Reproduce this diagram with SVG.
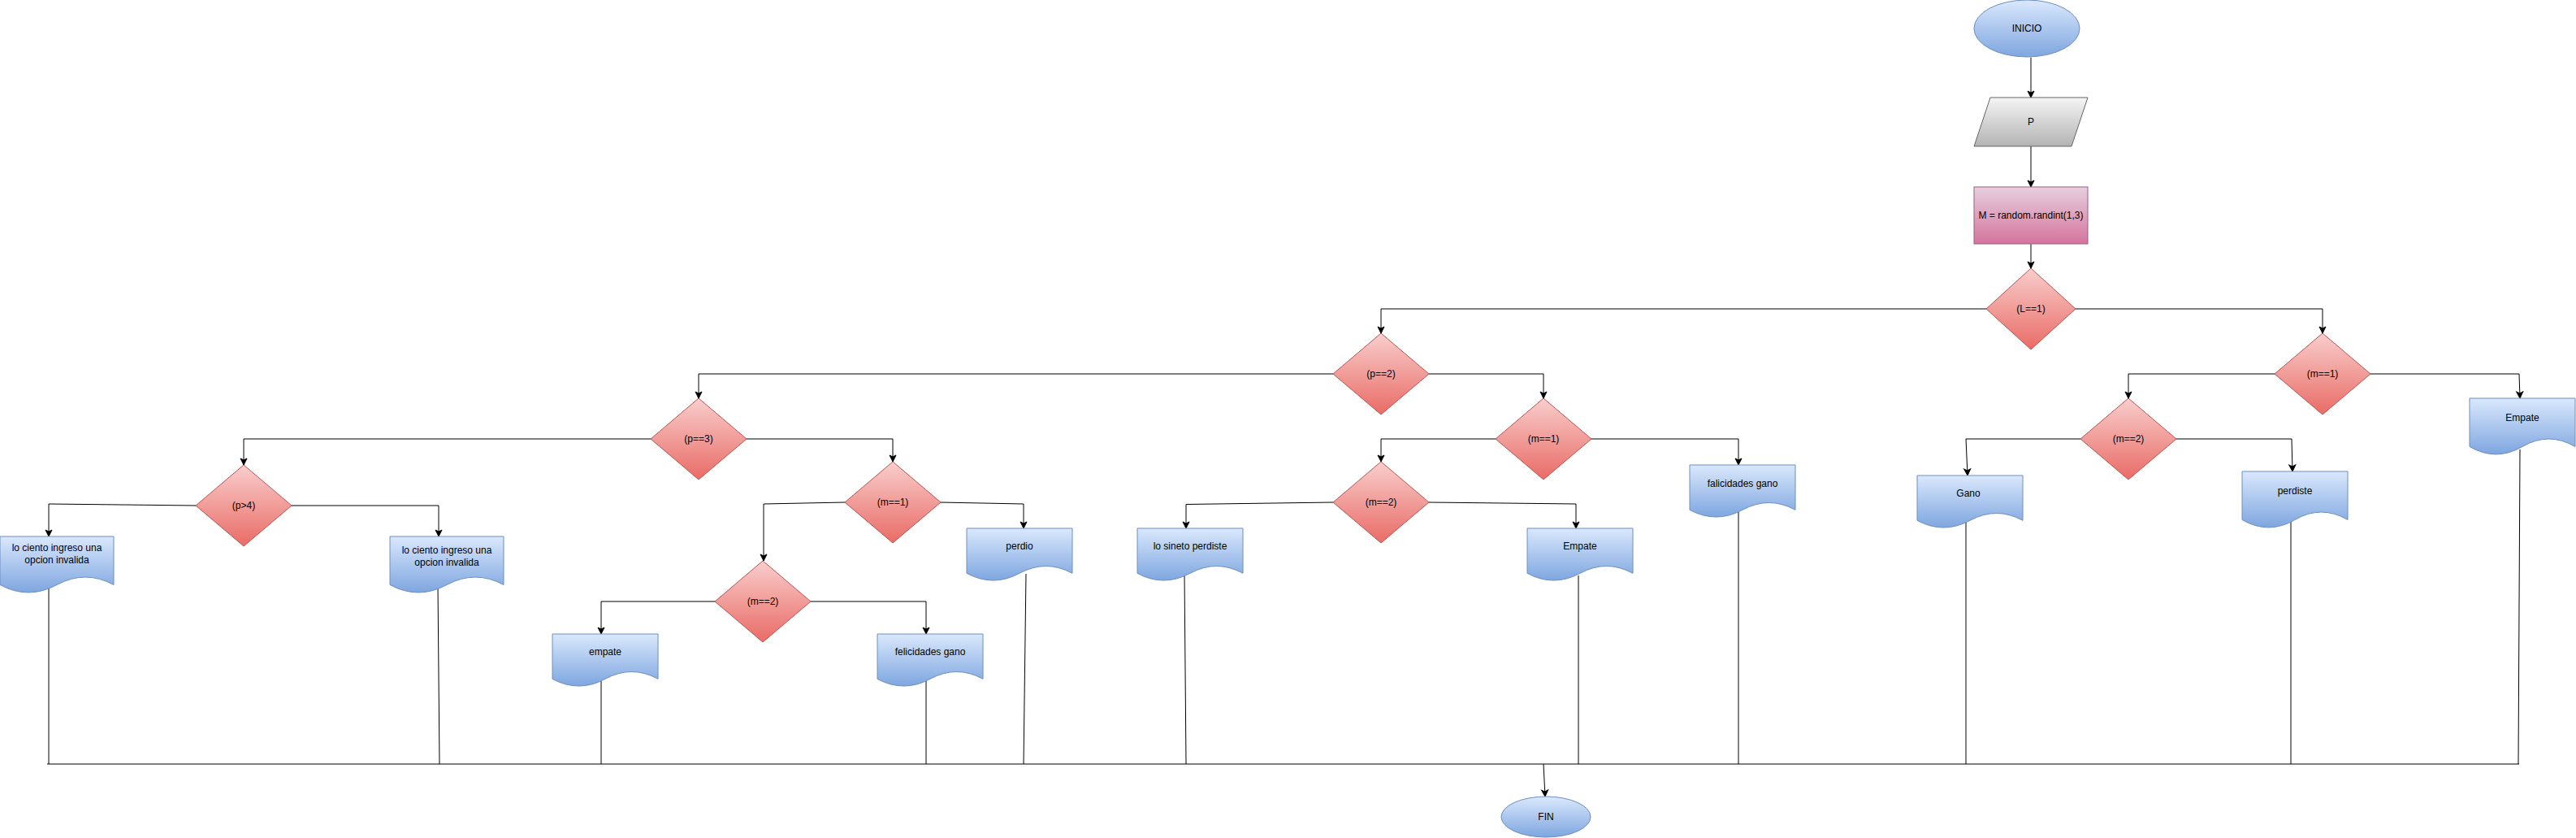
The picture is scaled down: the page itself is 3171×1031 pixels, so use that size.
<svg xmlns="http://www.w3.org/2000/svg" width="3171" height="1031" viewBox="0 0 3171 1031">
<style>
text{font-family:"Liberation Sans",Arial,Helvetica,sans-serif;font-size:12px;fill:#000;text-anchor:middle}
.blue{fill:url(#gBlue);stroke:#6c8ebf;stroke-width:1}
.red{fill:url(#gRed);stroke:#b85450;stroke-width:1}
.gray{fill:url(#gGray);stroke:#666666;stroke-width:1}
.pink{fill:url(#gPink);stroke:#996185;stroke-width:1}
.c{fill:none;stroke:#000;stroke-width:1}
.a{marker-end:url(#arr)}
</style>
<defs>
<linearGradient id="gBlue" x1="0" y1="0" x2="0" y2="1"><stop offset="0" stop-color="#dae8fc"/><stop offset="1" stop-color="#7ea6e0"/></linearGradient>
<linearGradient id="gRed" x1="0" y1="0" x2="0" y2="1"><stop offset="0" stop-color="#f8cecc"/><stop offset="1" stop-color="#ea6b66"/></linearGradient>
<linearGradient id="gGray" x1="0" y1="0" x2="0" y2="1"><stop offset="0" stop-color="#f5f5f5"/><stop offset="1" stop-color="#b3b3b3"/></linearGradient>
<linearGradient id="gPink" x1="0" y1="0" x2="0" y2="1"><stop offset="0" stop-color="#e6d0de"/><stop offset="1" stop-color="#d5739d"/></linearGradient>
<marker id="arr" markerUnits="userSpaceOnUse" markerWidth="12" markerHeight="12" viewBox="-10 -6 12 12" refX="0" refY="0" orient="auto"><path d="M0,0 L-8,-4 L-6,0 L-8,4 Z" fill="#000" stroke="#000" stroke-width="1"/></marker>
</defs>
<rect width="3171" height="1031" fill="#fff"/>

<g id="connectors">
<path class="c a" d="M2500,70.5 V120"/>
<path class="c a" d="M2500,180 V230"/>
<path class="c a" d="M2500,300 V330"/>
<path class="c a" d="M2555,380 H2859 V410"/>
<path class="c a" d="M2445,380 H1700 V410"/>
<path class="c a" d="M1759,460 H1900 V490"/>
<path class="c a" d="M1641,460 H860 V490"/>
<path class="c a" d="M1959,540 H2140 V572"/>
<path class="c a" d="M1841,540 H1700 V568"/>
<path class="c a" d="M1759,618 L1940,620 V650"/>
<path class="c a" d="M1641,618 L1460,620.5 V650"/>
<path class="c a" d="M919,540 H1099 V568"/>
<path class="c a" d="M801,540 H300 V572"/>
<path class="c a" d="M1158,618 L1260,620 V650"/>
<path class="c a" d="M1040,618 L940,620 V690"/>
<path class="c a" d="M998,740 H1140 V780"/>
<path class="c a" d="M880,740 H740 V780"/>
<path class="c a" d="M241,622 L60,620 V660"/>
<path class="c a" d="M359,622 H540 V660"/>
<path class="c a" d="M2800,460 H2620 V490"/>
<path class="c a" d="M2918,460 H3101 L3102,490"/>
<path class="c a" d="M2561,540 H2420 L2422,585"/>
<path class="c a" d="M2679,540 H2821 L2822,580"/>
<path class="c a" d="M1900,940 L1902,980"/>
<path class="c" d="M58,940 H3101"/>
<path class="c" d="M60,718 V940"/>
<path class="c" d="M539,720 L541,940"/>
<path class="c" d="M740,838 V940"/>
<path class="c" d="M1140,838 V940"/>
<path class="c" d="M1263,706 L1260,940"/>
<path class="c" d="M1458,706 L1460,940"/>
<path class="c" d="M1943,708 V940"/>
<path class="c" d="M2140,630 V940"/>
<path class="c" d="M2420,642 V940"/>
<path class="c" d="M2820,640 V940"/>
<path class="c" d="M3102,553 L3100,940"/>
</g>

<g id="inicio"><ellipse class="blue" cx="2495" cy="35" rx="65" ry="35"/><text x="2495" y="39">INICIO</text></g>
<g id="input-p"><polygon class="gray" points="2450,120 2570,120 2550,180 2430,180"/><text x="2500" y="154">P</text></g>
<g id="random"><rect class="pink" x="2430" y="230" width="140" height="70"/><text x="2500" y="269">M = random.randint(1,3)</text></g>

<g id="dec-l1"><polygon class="red" points="2500,330 2555,380 2500,430 2445,380"/><text x="2500" y="384">(L==1)</text></g>
<g id="dec-p2"><polygon class="red" points="1700,410 1759,460 1700,510 1641,460"/><text x="1700" y="464">(p==2)</text></g>
<g id="dec-m1-mid"><polygon class="red" points="1900,490 1959,540 1900,590 1841,540"/><text x="1900" y="544">(m==1)</text></g>
<g id="dec-m2-mid"><polygon class="red" points="1700,568 1759,618 1700,668 1641,618"/><text x="1700" y="622">(m==2)</text></g>
<g id="dec-p3"><polygon class="red" points="860,490 919,540 860,590 801,540"/><text x="860" y="544">(p==3)</text></g>
<g id="dec-m1-left"><polygon class="red" points="1099,568 1158,618 1099,668 1040,618"/><text x="1099" y="622">(m==1)</text></g>
<g id="dec-m2-left"><polygon class="red" points="939,690 998,740 939,790 880,740"/><text x="939" y="744">(m==2)</text></g>
<g id="dec-p4"><polygon class="red" points="300,572 359,622 300,672 241,622"/><text x="300" y="626">(p&gt;4)</text></g>
<g id="dec-m1-right"><polygon class="red" points="2859,410 2918,460 2859,510 2800,460"/><text x="2859" y="464">(m==1)</text></g>
<g id="dec-m2-right"><polygon class="red" points="2620,490 2679,540 2620,590 2561,540"/><text x="2620" y="544">(m==2)</text></g>

<g id="doc-invalid-1"><path class="blue" d="M0,660 H140 V719.5 Q105,700.6 70,719.5 Q35,738.4 0,719.5 Z"/><text x="70" y="678">lo ciento ingreso una</text><text x="70" y="693">opcion invalida</text></g>
<g id="doc-invalid-2"><path class="blue" d="M480,660 H620 V719.5 Q585,700.6 550,719.5 Q515,738.4 480,719.5 Z"/><text x="550" y="681">lo ciento ingreso una</text><text x="550" y="696">opcion invalida</text></g>
<g id="doc-empate-left"><path class="blue" d="M680,780 H810 V835.3 Q777.5,817.7 745,835.3 Q712.5,852.8 680,835.3 Z"/><text x="745" y="806">empate</text></g>
<g id="doc-felicidades"><path class="blue" d="M1080,780 H1210 V835.3 Q1177.5,817.7 1145,835.3 Q1112.5,852.8 1080,835.3 Z"/><text x="1145" y="806">felicidades gano</text></g>
<g id="doc-perdio"><path class="blue" d="M1190,650 H1320 V705.3 Q1287.5,687.7 1255,705.3 Q1222.5,722.8 1190,705.3 Z"/><text x="1255" y="676">perdio</text></g>
<g id="doc-sineto"><path class="blue" d="M1400,650 H1530 V705.3 Q1497.5,687.7 1465,705.3 Q1432.5,722.8 1400,705.3 Z"/><text x="1465" y="676">lo sineto perdiste</text></g>
<g id="doc-empate-mid"><path class="blue" d="M1880,650 H2010 V705.3 Q1977.5,687.7 1945,705.3 Q1912.5,722.8 1880,705.3 Z"/><text x="1945" y="676">Empate</text></g>
<g id="doc-falicidades"><path class="blue" d="M2080,572 H2210 V627.3 Q2177.5,609.7 2145,627.3 Q2112.5,644.8 2080,627.3 Z"/><text x="2145" y="599">falicidades gano</text></g>
<g id="doc-gano"><path class="blue" d="M2360,585 H2490 V640.3 Q2457.5,622.7 2425,640.3 Q2392.5,657.8 2360,640.3 Z"/><text x="2423" y="611">Gano</text></g>
<g id="doc-perdiste"><path class="blue" d="M2760,580 H2890 V639.5 Q2857.5,620.6 2825,639.5 Q2792.5,658.4 2760,639.5 Z"/><text x="2825" y="608">perdiste</text></g>
<g id="doc-empate-right"><path class="blue" d="M3040,490 H3170 V549.5 Q3137.5,530.6 3105,549.5 Q3072.5,568.4 3040,549.5 Z"/><text x="3105" y="518">Empate</text></g>

<g id="fin"><ellipse class="blue" cx="1903" cy="1005" rx="55" ry="25"/><text x="1903" y="1009">FIN</text></g>
</svg>
